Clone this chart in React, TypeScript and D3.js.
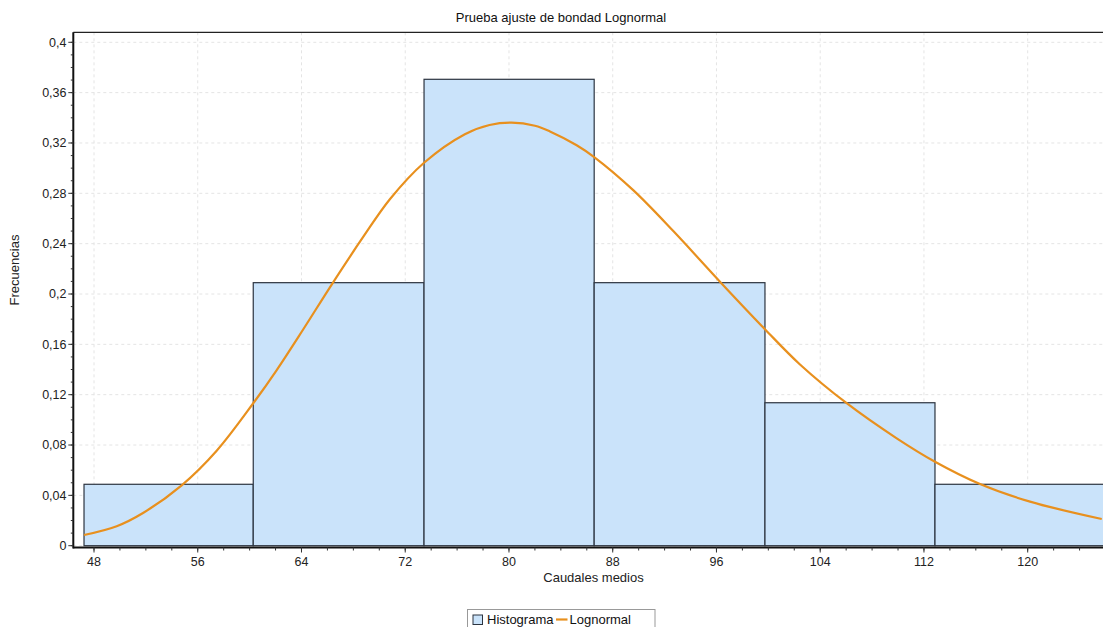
import React from "react";
import * as d3 from "d3";

// ---- Data ----
const binEdges = [47.23, 60.28, 73.45, 86.57, 99.74, 112.85, 126.0];
const binFreqs = [0.0488, 0.209, 0.3706, 0.209, 0.1136, 0.0488];

const curveX = [
  47.23, 49.75, 51.78, 54.76, 57.46, 60.28, 62.09, 64.14, 66.33, 68.77, 70.83,
  73.45, 76.6, 78.5, 80.2, 82.0, 83.16, 85.22, 86.57, 89.58, 92.67, 96.34, 99.74,
  102.44, 106.04, 109.9, 112.85, 116.32, 120.18, 125.71,
];
const curveY = [
  0.0085, 0.0155, 0.026, 0.048, 0.0755, 0.1132, 0.1396, 0.172, 0.2075, 0.2455,
  0.2755, 0.3043, 0.327, 0.3343, 0.3362, 0.3337, 0.3292, 0.3182, 0.3088, 0.2825,
  0.25, 0.209, 0.172, 0.144, 0.1132, 0.0853, 0.0667, 0.049, 0.035, 0.0212,
];

const xTicks = [48, 56, 64, 72, 80, 88, 96, 104, 112, 120];
const yTicks = [0, 0.04, 0.08, 0.12, 0.16, 0.2, 0.24, 0.28, 0.32, 0.36, 0.4];

const title = "Prueba ajuste de bondad Lognormal";
const xTitle = "Caudales medios";
const yTitle = "Frecuencias";
const legendLabels = ["Histograma", "Lognormal"];

// ---- Layout ----
const W = 1103;
const H = 627;
const plotLeft = 73.3;
const plotRight = 1104;
const plotTop = 32.3;
const plotBottom = 547.5;
const FONT = "'Liberation Sans', Arial, sans-serif";
const BAR_FILL = "#cae3fa";
const BAR_STROKE = "#2c3440";
const LINE_COLOR = "#e8901e";

const fmt = (v: number) => String(+v.toFixed(2)).replace(".", ",");

export default function App() {
  const x = d3.scaleLinear().domain([48, 120]).range([94, 1027.7]);
  const y = d3.scaleLinear().domain([0, 0.4]).range([545.7, 42.3]);

  const xMinor = d3.range(46, 127, 2).filter((v) => x(v) >= plotLeft && x(v) <= plotRight);
  const yMinor = d3.range(0, 0.4001, 0.01);

  const line = d3
    .line<number>()
    .x((_, i) => x(curveX[i]))
    .y((d) => y(d))
    .curve(d3.curveCatmullRom.alpha(0.5));

  return (
    <svg
      width={W}
      height={H}
      style={{ position: "absolute", left: 0, top: 0, background: "#fff" }}
      fontFamily={FONT}
    >
      <defs>
        <clipPath id="plotclip">
          <rect x={plotLeft} y={plotTop} width={plotRight - plotLeft} height={plotBottom - plotTop} />
        </clipPath>
      </defs>
      <rect x={0} y={0} width={W} height={H} fill="#fff" />

      {/* title */}
      <text x={561} y={22} textAnchor="middle" fontSize={13} fill="#111">
        {title}
      </text>

      {/* grid */}
      <g stroke="#e4e4e4" strokeWidth={1} strokeDasharray="3,3">
        {xTicks.map((t) => (
          <line key={"gx" + t} x1={x(t)} x2={x(t)} y1={plotTop} y2={plotBottom} />
        ))}
        {yTicks.map((t) => (
          <line key={"gy" + t} x1={plotLeft} x2={plotRight} y1={y(t)} y2={y(t)} />
        ))}
      </g>

      {/* bars */}
      <g clipPath="url(#plotclip)">
        {binFreqs.map((f, i) => (
          <rect
            key={"b" + i}
            x={x(binEdges[i])}
            y={y(f)}
            width={x(binEdges[i + 1]) - x(binEdges[i])}
            height={y(0) - y(f)}
            fill={BAR_FILL}
            stroke={BAR_STROKE}
            strokeWidth={1.2}
          />
        ))}
        <path d={line(curveY) || ""} fill="none" stroke={LINE_COLOR} strokeWidth={2.2} />
      </g>

      {/* frame */}
      <line x1={plotLeft} x2={plotRight} y1={plotTop} y2={plotTop} stroke="#222" strokeWidth={1.3} />
      <line x1={plotLeft} x2={plotLeft} y1={plotTop} y2={plotBottom + 1} stroke="#111" strokeWidth={2} />
      <line x1={plotLeft} x2={plotRight} y1={plotBottom} y2={plotBottom} stroke="#111" strokeWidth={2} />

      {/* y axis ticks */}
      <g stroke="#333" strokeWidth={1}>
        {yMinor.map((t, i) => (
          <line key={"ym" + i} x1={plotLeft - 2.5} x2={plotLeft} y1={y(t)} y2={y(t)} />
        ))}
        {yTicks.map((t) => (
          <line key={"yt" + t} x1={plotLeft - 5} x2={plotLeft} y1={y(t)} y2={y(t)} />
        ))}
      </g>
      <g fontSize={12.5} fill="#222" textAnchor="end">
        {yTicks.map((t) => (
          <text key={"yl" + t} x={66.5} y={y(t)} dy="0.35em">
            {fmt(t)}
          </text>
        ))}
      </g>

      {/* x axis ticks */}
      <g stroke="#333" strokeWidth={1}>
        {xMinor.map((t) => (
          <line key={"xm" + t} x1={x(t)} x2={x(t)} y1={plotBottom} y2={plotBottom + 3} />
        ))}
        {xTicks.map((t) => (
          <line key={"xt" + t} x1={x(t)} x2={x(t)} y1={plotBottom} y2={plotBottom + 5} />
        ))}
      </g>
      <g fontSize={12.5} fill="#222" textAnchor="middle">
        {xTicks.map((t) => (
          <text key={"xl" + t} x={x(t)} y={565.5}>
            {t}
          </text>
        ))}
      </g>

      {/* axis titles */}
      <text x={593.5} y={582} textAnchor="middle" fontSize={13} fill="#222">
        {xTitle}
      </text>
      <text
        transform={`translate(19,270) rotate(-90)`}
        textAnchor="middle"
        fontSize={13}
        fill="#222"
      >
        {yTitle}
      </text>

      {/* legend */}
      <g>
        <rect x={467.5} y={609.5} width={187.5} height={22} fill="#fff" stroke="#999" strokeWidth={1} />
        <rect x={473} y={615} width={9.5} height={9.5} fill={BAR_FILL} stroke={BAR_STROKE} strokeWidth={1} />
        <text x={487} y={623.5} fontSize={13} fill="#111">
          {legendLabels[0]}
        </text>
        <line x1={556} x2={567.5} y1={619.5} y2={619.5} stroke={LINE_COLOR} strokeWidth={2.2} />
        <text x={569.5} y={623.5} fontSize={13} fill="#111">
          {legendLabels[1]}
        </text>
      </g>
    </svg>
  );
}
